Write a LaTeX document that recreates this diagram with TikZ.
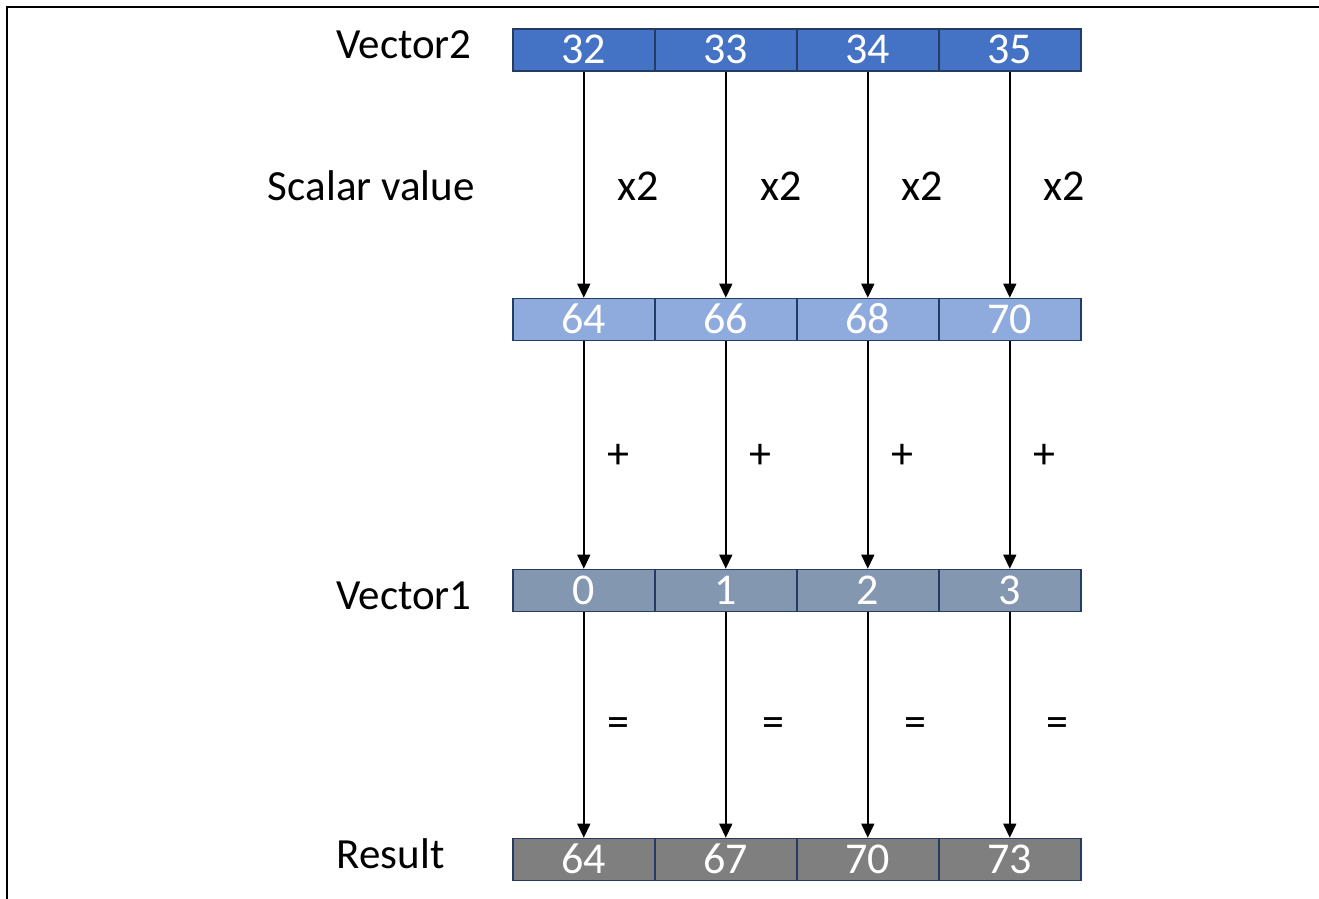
\documentclass[tikz,border=0pt]{standalone}
\usepackage{fontspec}
\setmainfont{Carlito}
\usetikzlibrary{arrows.meta}
\definecolor{rowA}{HTML}{4472C4}
\definecolor{rowB}{HTML}{8FAADC}
\definecolor{rowC}{HTML}{8497B0}
\definecolor{rowD}{HTML}{7F7F7F}
\definecolor{cellline}{HTML}{243B63}
\tikzset{
  cell/.style={draw=cellline, line width=0.8pt, minimum width=71pt, minimum height=21pt,
    inner sep=0pt, text=white, font=\fontsize{22}{24}\selectfont,
    text height=13.9pt, text depth=0pt, anchor=west},
  rowlabel/.style={font=\fontsize{21.5}{24}\selectfont, inner sep=0pt, anchor=base east},
  oplabel/.style={font=\fontsize{22}{24}\selectfont, inner sep=0pt},
  flow/.style={line width=0.7pt, -{Triangle[length=7pt,width=6.5pt]}},
  frame/.style={line width=1pt}
}
\begin{document}
\begin{tikzpicture}[x=0.5pt,y=-0.5pt]
\useasboundingbox (0,0) rectangle (1319,899);
% open frame: top and left edges only
\coordinate (fTR) at (1319,7);
\coordinate (fTL) at (7,7);
\coordinate (fBL) at (7,899);
\draw[frame] (fTR) -- (fTL) -- (fBL);

% four rows of four cells
\foreach \r/\y/\fillc/\a/\b/\c/\d in {
    1/50/rowA/32/33/34/35,
    2/319.5/rowB/64/66/68/70,
    3/590.5/rowC/0/1/2/3,
    4/859.5/rowD/64/67/70/73} {
  \node[cell, fill=\fillc] (r\r c1) at (512,\y) {\a};
  \node[cell, fill=\fillc] (r\r c2) at (654,\y) {\b};
  \node[cell, fill=\fillc] (r\r c3) at (796,\y) {\c};
  \node[cell, fill=\fillc] (r\r c4) at (938,\y) {\d};
}

% row captions
\node[rowlabel] (lv2) at (472,59) {Vector2};
\node[rowlabel] (lsc) at (475,200) {Scalar value};
\node[rowlabel] (lv1) at (472,609) {Vector1};
\node[rowlabel] (lres) at (445,868) {Result};

% element-wise flow between rows
\foreach \i in {1,2,3,4} {
  \draw[flow] (r1c\i.south) -- (r2c\i.north);
  \draw[flow] (r2c\i.south) -- (r3c\i.north);
  \draw[flow] (r3c\i.south) -- (r4c\i.north);
}

% operator labels
\foreach \i/\x in {1/638,2/781,3/922,4/1064}
  \node[oplabel, anchor=base] (mul\i) at (\x,200) {x2};
\foreach \i/\x in {1/618,2/760,3/902,4/1044}
  \node[oplabel] (add\i) at (\x,456) {+};
\foreach \i/\x in {1/618,2/773,3/915,4/1057}
  \node[oplabel] (eq\i) at (\x,727) {=};
\end{tikzpicture}
\end{document}
